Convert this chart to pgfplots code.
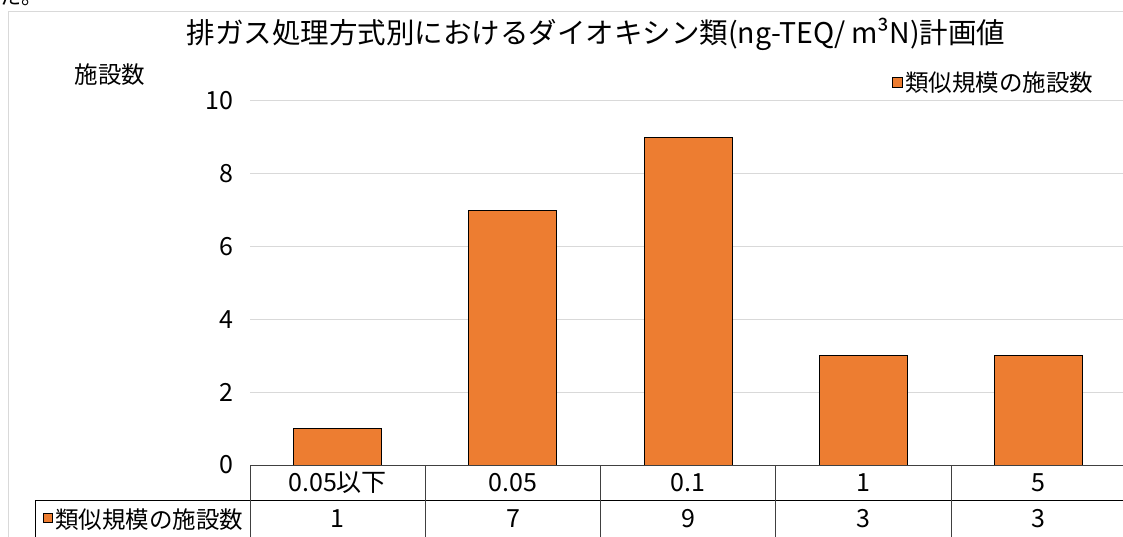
\documentclass[border=0pt]{standalone}
\usepackage{pgfplots}
\pgfplotsset{compat=1.18}
\usepackage{fontspec}
\setmainfont{Noto Sans CJK JP}
\definecolor{barorange}{HTML}{ED7D31}
\definecolor{gridgray}{HTML}{D9D9D9}
\definecolor{tablegray}{HTML}{404040}
\begin{document}
\begin{tikzpicture}[x=1pt,y=1pt]
\useasboundingbox (0,0) rectangle (1123,536);
\clip (0,0) rectangle (1123,536);
% partial text above the chart
\node[anchor=base west,inner sep=0pt,font=\fontsize{21}{24}\selectfont] at (0,531) {た。};
% chart border
\draw[gridgray,line width=1pt] (8,-2) -- (8,524) -- (1130,524);
\begin{axis}[
  at={(250pt,71pt)}, anchor=south west,
  scale only axis, width=876.5pt, height=364pt,
  xmin=-0.5, xmax=4.5, ymin=0, ymax=10,
  ytick={0,2,4,6,8,10},
  xtick=\empty,
  ymajorgrids, grid style={gridgray,line width=1pt},
  axis line style={draw=none},
  major tick length=0pt,
  yticklabel style={font=\fontsize{25}{28}\selectfont, xshift=-13pt},
  /pgf/number format/assume math mode=true,
  clip=false,
]
\addplot[ybar, bar width=88pt, fill=barorange, draw=black, line width=1pt]
  coordinates {(0,1) (1,7) (2,9) (3,3) (4,3)};
\end{axis}
% title
\node[font=\fontsize{28.5}{32}\selectfont] at (596,502) {排ガス処理方式別におけるダイオキシン類(ng-TEQ/ m³N)計画値};
% y label
\node[font=\fontsize{23.5}{26}\selectfont] at (110,461) {施設数};
% legend
\draw[black,line width=1pt,fill=barorange] (892,448) rectangle (902,458);
\node[anchor=west,font=\fontsize{23.5}{26}\selectfont,inner sep=0pt] at (905,453) {類似規模の施設数};
% data table
\draw[tablegray,line width=1pt] (250,71) -- (1130,71);
\draw[black,line width=1pt] (35,36) -- (1130,36);
\draw[black,line width=1pt] (35,36) -- (35,-2);
\foreach \xx in {250,425.3,600.6,775.9,951.2} {\draw[tablegray,line width=1pt] (\xx,71) -- (\xx,-2);}
\foreach \lab [count=\i from 0] in {0.05以下,0.05,0.1,1,5}
  {\node[font=\fontsize{25}{28}\selectfont] at (337.65+\i*175.3,53) {\lab};}
\foreach \val [count=\i from 0] in {1,7,9,3,3}
  {\node[font=\fontsize{25}{28}\selectfont] at (337.65+\i*175.3,17) {\val};}
\draw[black,line width=0.8pt,fill=barorange] (43,14) rectangle (52,23);
\node[anchor=west,font=\fontsize{23.5}{26}\selectfont,inner sep=0pt] at (55,16) {類似規模の施設数};
\end{tikzpicture}
\end{document}
